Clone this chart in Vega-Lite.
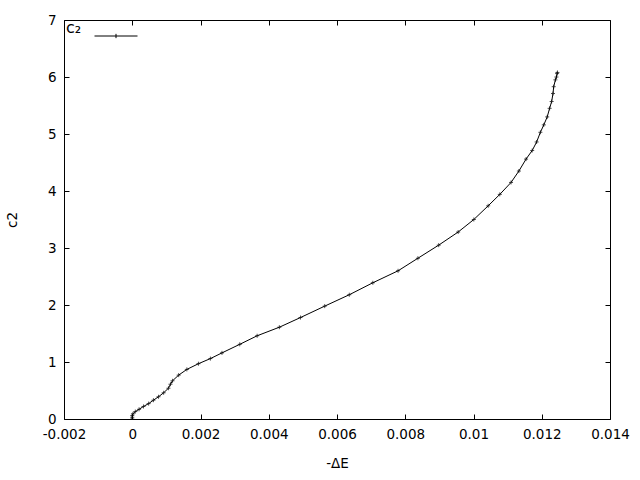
{
  "$schema": "https://vega.github.io/schema/vega-lite/v6.json",
  "autosize": "none",
  "width": 546,
  "height": 399,
  "padding": {"left": 64, "top": 20, "right": 30, "bottom": 61},
  "background": "white",
  "config": {
    "view": {"stroke": null},
    "font": "DejaVu Sans",
    "axis": {
      "grid": false,
      "domainColor": "black",
      "domainWidth": 1,
      "tickColor": "black",
      "tickSize": -5,
      "labelFlush": false,
      "labelColor": "black",
      "labelFont": "DejaVu Sans",
      "labelFontSize": 13.5,
      "titleFont": "DejaVu Sans",
      "titleFontSize": 13.5,
      "titleFontWeight": "normal",
      "titleColor": "black"
    }
  },
  "data": {
    "values": [
      {"x": 0, "y": 0, "s": "c2"},
      {"x": 0, "y": 0.03, "s": "c2"},
      {"x": 0, "y": 0.06, "s": "c2"},
      {"x": 0.00002, "y": 0.09, "s": "c2"},
      {"x": 0.00009, "y": 0.13, "s": "c2"},
      {"x": 0.0002, "y": 0.17, "s": "c2"},
      {"x": 0.00033, "y": 0.22, "s": "c2"},
      {"x": 0.00048, "y": 0.27, "s": "c2"},
      {"x": 0.00062, "y": 0.33, "s": "c2"},
      {"x": 0.00077, "y": 0.39, "s": "c2"},
      {"x": 0.00092, "y": 0.46, "s": "c2"},
      {"x": 0.00106, "y": 0.54, "s": "c2"},
      {"x": 0.00112, "y": 0.61, "s": "c2"},
      {"x": 0.00118, "y": 0.67, "s": "c2"},
      {"x": 0.00136, "y": 0.77, "s": "c2"},
      {"x": 0.0016, "y": 0.87, "s": "c2"},
      {"x": 0.00194, "y": 0.97, "s": "c2"},
      {"x": 0.00229, "y": 1.06, "s": "c2"},
      {"x": 0.00263, "y": 1.16, "s": "c2"},
      {"x": 0.00315, "y": 1.31, "s": "c2"},
      {"x": 0.00366, "y": 1.46, "s": "c2"},
      {"x": 0.00431, "y": 1.61, "s": "c2"},
      {"x": 0.00493, "y": 1.78, "s": "c2"},
      {"x": 0.00564, "y": 1.98, "s": "c2"},
      {"x": 0.00636, "y": 2.18, "s": "c2"},
      {"x": 0.00705, "y": 2.39, "s": "c2"},
      {"x": 0.00779, "y": 2.6, "s": "c2"},
      {"x": 0.00837, "y": 2.82, "s": "c2"},
      {"x": 0.00898, "y": 3.05, "s": "c2"},
      {"x": 0.00955, "y": 3.28, "s": "c2"},
      {"x": 0.01001, "y": 3.5, "s": "c2"},
      {"x": 0.01043, "y": 3.74, "s": "c2"},
      {"x": 0.01077, "y": 3.94, "s": "c2"},
      {"x": 0.0111, "y": 4.15, "s": "c2"},
      {"x": 0.01133, "y": 4.35, "s": "c2"},
      {"x": 0.01154, "y": 4.56, "s": "c2"},
      {"x": 0.01172, "y": 4.71, "s": "c2"},
      {"x": 0.01185, "y": 4.86, "s": "c2"},
      {"x": 0.01196, "y": 5.03, "s": "c2"},
      {"x": 0.01206, "y": 5.16, "s": "c2"},
      {"x": 0.01216, "y": 5.3, "s": "c2"},
      {"x": 0.01223, "y": 5.45, "s": "c2"},
      {"x": 0.01229, "y": 5.57, "s": "c2"},
      {"x": 0.01233, "y": 5.71, "s": "c2"},
      {"x": 0.01235, "y": 5.83, "s": "c2"},
      {"x": 0.0124, "y": 5.95, "s": "c2"},
      {"x": 0.01243, "y": 6.0, "s": "c2"},
      {"x": 0.01245, "y": 6.06, "s": "c2"},
      {"x": 0.01246, "y": 6.08, "s": "c2"}
    ]
  },
  "layer": [
    {
      "mark": {"type": "line", "strokeWidth": 1, "clip": true},
      "encoding": {
        "x": {
          "field": "x", "type": "quantitative",
          "scale": {"domain": [-0.002, 0.014], "nice": false, "zero": false},
          "axis": {
            "orient": "bottom",
            "values": [-0.002, 0, 0.002, 0.004, 0.006, 0.008, 0.01, 0.012, 0.014],
            "labelExpr": "replace(format(datum.value, '~g'), '−', '-')",
            "labelPadding": 13,
            "title": "-ΔE",
            "titlePadding": 16
          }
        },
        "y": {
          "field": "y", "type": "quantitative",
          "scale": {"domain": [0, 7], "nice": false},
          "axis": {
            "orient": "left",
            "values": [0, 1, 2, 3, 4, 5, 6, 7],
            "labelPadding": 13,
            "title": "c2",
            "titlePadding": 28
          }
        },
        "order": {"value": null},
        "color": {
          "field": "s", "type": "nominal",
          "scale": {"range": ["black"]},
          "legend": {
            "orient": "none",
            "legendX": 2,
            "legendY": -6,
            "title": "c₂",
            "titleOrient": "left",
            "titleFontSize": 16,
            "titleFontWeight": "normal",
            "titleColor": "black",
            "titleFont": "DejaVu Sans",
            "titlePadding": 12,
            "labelExpr": "''",
            "symbolType": "M-1,0H1M0,-0.1V0.1",
            "symbolSize": 1849,
            "symbolStrokeWidth": 1,
            "symbolStrokeColor": "black",
            "symbolFillColor": "transparent"
          }
        }
      }
    },
    {
      "mark": {"type": "point", "shape": "M-1,0H1M0,-1V1", "size": 16, "filled": false, "stroke": "black", "strokeWidth": 1, "clip": true},
      "encoding": {
        "x": {
          "field": "x", "type": "quantitative",
          "axis": {
            "orient": "top",
            "values": [-0.002, 0, 0.002, 0.004, 0.006, 0.008, 0.01, 0.012, 0.014],
            "labels": false,
            "title": null
          }
        },
        "y": {
          "field": "y", "type": "quantitative",
          "axis": {
            "orient": "right",
            "values": [0, 1, 2, 3, 4, 5, 6, 7],
            "labels": false,
            "title": null
          }
        }
      }
    }
  ],
  "resolve": {"axis": {"x": "independent", "y": "independent"}}
}
